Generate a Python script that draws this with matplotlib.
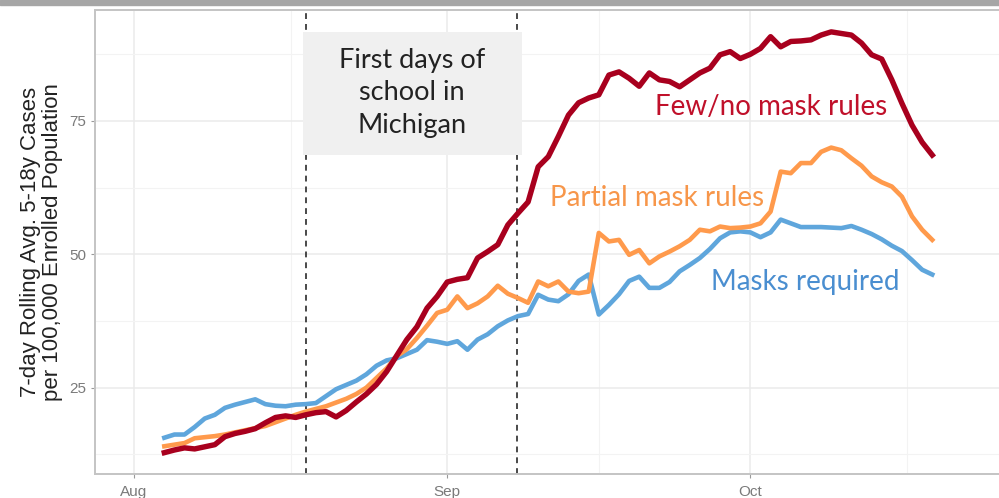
import pandas as pd
import matplotlib
matplotlib.use("Agg")
import matplotlib.pyplot as plt
import matplotlib.dates as mdates
from matplotlib.patches import Rectangle
import numpy as np

# ---- data: 7-day rolling avg cases per 100k, Aug 4 .. Oct 19 ----
dates = pd.date_range("2021-08-04", "2021-10-19", freq="D")

few_no = [12.8, 13.3, 13.7, 13.5, 13.9, 14.3, 15.8, 16.4, 16.8, 17.3,
          18.4, 19.4, 19.7, 19.4, 19.9, 20.3, 20.5, 19.5, 20.7, 22.3,
          23.8, 25.6, 28.0, 31.0, 34.0, 36.4, 39.9, 42.1, 44.8, 45.3,
          45.6, 49.3, 50.5, 51.8, 55.5, 57.7, 59.8, 66.4, 68.3, 72.1,
          76.1, 78.4, 79.3, 79.9, 83.6, 84.2, 83.0, 81.5, 84.0, 82.7,
          82.4, 81.4, 82.7, 84.0, 84.9, 87.4, 88.0, 86.7, 87.5, 88.6,
          90.8, 88.9, 89.9, 90.0, 90.2, 91.1, 91.7, 91.4, 91.1, 89.6,
          87.4, 86.6, 82.7, 78.3, 74.2, 71.0, 68.6]

partial = [14.0, 14.3, 14.6, 15.5, 15.7, 15.9, 16.2, 16.6, 17.0, 17.4,
           17.8, 18.5, 19.2, 19.9, 20.5, 21.0, 21.5, 22.2, 22.9, 23.8,
           25.0, 26.8, 28.6, 30.9, 32.2, 34.3, 36.6, 39.0, 39.6, 42.1,
           39.9, 40.8, 42.1, 44.1, 42.6, 41.8, 40.9, 44.9, 44.0, 44.9,
           43.0, 42.7, 43.0, 54.0, 52.4, 52.7, 49.9, 50.8, 48.3, 49.6,
           50.5, 51.5, 52.7, 54.6, 54.3, 55.2, 54.9, 55.0, 55.2, 55.8,
           58.0, 65.5, 65.2, 67.1, 67.1, 69.2, 70.0, 69.5, 68.0, 66.6,
           64.6, 63.5, 62.7, 60.8, 57.1, 54.6, 52.7]

required = [15.6, 16.2, 16.2, 17.6, 19.2, 19.9, 21.2, 21.8, 22.3, 22.8,
            21.9, 21.6, 21.5, 21.8, 21.9, 22.1, 23.4, 24.7, 25.5, 26.3,
            27.5, 29.1, 30.1, 30.5, 31.3, 32.1, 33.9, 33.6, 33.2, 33.7,
            32.1, 34.0, 35.0, 36.5, 37.6, 38.4, 38.8, 42.4, 41.5, 41.2,
            42.5, 45.0, 46.2, 38.7, 40.5, 42.5, 45.0, 45.8, 43.7, 43.7,
            44.8, 46.8, 48.0, 49.3, 51.0, 53.0, 54.1, 54.3, 54.1, 53.2,
            54.1, 56.5, 55.8, 55.1, 55.1, 55.1, 55.0, 54.9, 55.3, 54.6,
            53.8, 52.8, 51.6, 50.6, 48.9, 47.1, 46.2]

school_start = [pd.Timestamp("2021-08-18"), pd.Timestamp("2021-09-07 22:00")]
y_ticks = [25, 50, 75]

RED = "#A8001E"
ORANGE = "#FF9A4C"
BLUE = "#5FA6DC"

plt.rcParams["font.family"] = ["Liberation Sans", "DejaVu Sans"]

fig = plt.figure(figsize=(9.99, 4.98), dpi=100)
fig.patches.append(Rectangle((0, 1 - 5 / 498), 1, 5 / 498, transform=fig.transFigure,
                             color="#A6A6A6", zorder=0))
ax = fig.add_axes([95 / 999, 24 / 498, (1005 - 95) / 999, 464 / 498])

aug1 = pd.Timestamp("2021-08-01")
ax.set_xlim(aug1 - pd.Timedelta(days=3.86), aug1 + pd.Timedelta(days=86.2))
ax.set_ylim(8.8, 95.8)

# grid like theme_bw
months = [pd.Timestamp("2021-08-01"), pd.Timestamp("2021-09-01"), pd.Timestamp("2021-10-01"),
          pd.Timestamp("2021-11-01")]
mids = [months[i] + (months[i + 1] - months[i]) / 2 for i in range(3)]
ax.set_xticks(months[:3])
ax.xaxis.set_major_formatter(mdates.DateFormatter("%b"))
ax.set_xticks(mids, minor=True)
ax.set_yticks(y_ticks)
ax.set_yticks([12.5, 37.5, 62.5, 87.5], minor=True)
ax.grid(which="major", color="#EBEBEB", linewidth=1.1)
ax.grid(which="minor", color="#F3F3F3", linewidth=0.8)
ax.set_axisbelow(True)
ax.tick_params(which="major", length=3, color="#9A9A9A", labelcolor="#7A7A7A", labelsize=11)
ax.tick_params(which="minor", length=0)
ax.tick_params(axis="x", pad=5)
for s in ax.spines.values():
    s.set_color("#C4C4C4")
    s.set_linewidth(1.4)

# school start lines
for d in school_start:
    ax.axvline(d, color="#2A2A2A", linewidth=1.2, linestyle=(0, (3.5, 3)), zorder=2)

ax.plot(dates, required, color=BLUE, linewidth=3.3, zorder=3, solid_joinstyle="round")
ax.plot(dates, partial, color=ORANGE, linewidth=3.3, zorder=4, solid_joinstyle="round")
ax.plot(dates, few_no, color=RED, linewidth=3.9, zorder=5, solid_joinstyle="round")

# annotation box
x0 = mdates.date2num(aug1 + pd.Timedelta(days=16.7))
x1 = mdates.date2num(aug1 + pd.Timedelta(days=38.4))
ax.add_patch(Rectangle((x0, 68.6), x1 - x0, 91.7 - 68.6, facecolor="#F0F0F0",
                       edgecolor="none", zorder=6))
ax.text(aug1 + pd.Timedelta(days=27.5), 80.3, "First days of\nschool in\nMichigan",
        ha="center", va="center", fontsize=19.5, family=["Lato", "DejaVu Sans"],
        color="#222222", linespacing=1.37, zorder=7)

ax.text(aug1 + pd.Timedelta(days=63.1), 77.6, "Few/no mask rules", color="#C0102A",
        fontsize=20, family=["Lato", "DejaVu Sans"], ha="center", va="center", zorder=7)
ax.text(aug1 + pd.Timedelta(days=51.8), 60.6, "Partial mask rules", color="#F7964A",
        fontsize=20, family=["Lato", "DejaVu Sans"], ha="center", va="center", zorder=7)
ax.text(aug1 + pd.Timedelta(days=66.4), 44.8, "Masks required", color="#4A8ED0",
        fontsize=20, family=["Lato", "DejaVu Sans"], ha="center", va="center", zorder=7)

ax.set_ylabel("7-day Rolling Avg. 5-18y Cases\nper 100,000 Enrolled Population",
              fontsize=16, color="#222222", linespacing=1.1, labelpad=4)

fig.savefig("out.png", dpi=100)
